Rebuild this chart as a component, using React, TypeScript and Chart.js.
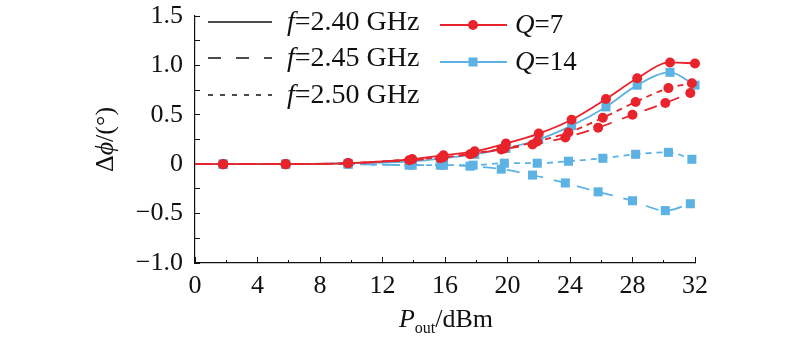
import React, { useEffect, useRef } from 'react';
import { Chart, registerables } from 'chart.js';

Chart.register(...registerables);

// ---- data ----
const pout240 = [0, 1.8, 5.8, 9.8, 13.9, 15.9, 17.9, 19.9, 22.0, 24.1, 26.3, 28.3, 30.4, 32.0];
const q7f240 = [0, 0, 0, 0.01, 0.05, 0.09, 0.13, 0.21, 0.31, 0.45, 0.66, 0.87, 1.03, 1.02];
const q14f240 = [0, 0, 0, 0.01, 0.03, 0.06, 0.1, 0.16, 0.25, 0.39, 0.58, 0.8, 0.93, 0.8];

const pout245 = [0, 1.8, 5.8, 9.8, 13.7, 15.7, 17.6, 19.6, 21.6, 23.7, 25.8, 28.0, 30.1, 31.7];
const q7f245 = [0, 0, 0, 0.01, 0.04, 0.06, 0.1, 0.15, 0.2, 0.27, 0.37, 0.5, 0.62, 0.72];
const q14f245 = [0, 0, 0, 0, -0.01, -0.01, -0.02, -0.05, -0.11, -0.19, -0.28, -0.37, -0.47, -0.4];

const pout250 = [0, 1.8, 5.8, 9.8, 13.9, 15.9, 17.8, 19.8, 21.9, 23.9, 26.1, 28.2, 30.3, 31.8];
const q7f250 = [0, 0, 0, 0.01, 0.05, 0.07, 0.11, 0.16, 0.23, 0.32, 0.47, 0.63, 0.77, 0.82];
const q14f250 = [0, 0, 0, 0, -0.01, -0.01, -0.01, 0.01, 0.01, 0.03, 0.06, 0.1, 0.12, 0.05];

const freqLabels = ['2.40', '2.45', '2.50'];
const qLabels = ['7', '14'];

const xMin = 0;
const xMax = 32;
const yMin = -1.0;
const yMax = 1.5;

const RED = '#e8232b';
const BLUE = '#5cb2e3';
const FONT = '"Liberation Serif", "Times New Roman", serif';

const DASHES = [[], [13, 11], [6, 5]];
const LEGEND_DASHES = [[], [13, 15], [5, 7]];

function pts(xs: number[], ys: number[]) {
  return xs.map((x, i) => ({ x, y: ys[i] }));
}
function radii(xs: number[], r: number) {
  return xs.map((_, i) => (i === 0 ? 0 : r));
}

function drawRich(ctx: CanvasRenderingContext2D, parts: { t: string; italic?: boolean; size: number; dy?: number }[], x: number, y: number) {
  let cx = x;
  for (const p of parts) {
    ctx.font = `${p.italic ? 'italic ' : ''}${p.size}px ${FONT}`;
    ctx.fillText(p.t, cx, y + (p.dy || 0));
    cx += ctx.measureText(p.t).width;
  }
  return cx - x;
}
function richWidth(ctx: CanvasRenderingContext2D, parts: { t: string; italic?: boolean; size: number }[]) {
  let w = 0;
  for (const p of parts) {
    ctx.font = `${p.italic ? 'italic ' : ''}${p.size}px ${FONT}`;
    w += ctx.measureText(p.t).width;
  }
  return w;
}

const overlayPlugin = {
  id: 'overlay',
  afterDraw(chart: any) {
    const ctx: CanvasRenderingContext2D = chart.ctx;
    const area = chart.chartArea;
    ctx.save();
    ctx.fillStyle = '#111';
    ctx.textBaseline = 'middle';
    ctx.textAlign = 'left';

    // left legend column: line styles for frequencies
    const rowsY = [22, 58, 95];
    freqLabels.forEach((f, i) => {
      const y = rowsY[i];
      ctx.strokeStyle = '#111';
      ctx.lineWidth = 1.5;
      ctx.setLineDash(LEGEND_DASHES[i]);
      ctx.beginPath();
      ctx.moveTo(208, y);
      ctx.lineTo(272, y);
      ctx.stroke();
      ctx.setLineDash([]);
      drawRich(ctx, [
        { t: 'f', italic: true, size: 28 },
        { t: '=' + f + ' GHz', size: 28 },
      ], 287, y + 1);
    });

    // right legend column: markers for Q
    const qRows = [25, 62];
    const qColors = [RED, BLUE];
    qLabels.forEach((q, i) => {
      const y = qRows[i];
      ctx.strokeStyle = qColors[i];
      ctx.fillStyle = qColors[i];
      ctx.lineWidth = 1.8;
      ctx.beginPath();
      ctx.moveTo(440, y);
      ctx.lineTo(507, y);
      ctx.stroke();
      if (i === 0) {
        ctx.beginPath();
        ctx.arc(473, y, 5, 0, Math.PI * 2);
        ctx.fill();
      } else {
        ctx.fillRect(473 - 4.5, y - 4.5, 9, 9);
      }
      ctx.fillStyle = '#111';
      drawRich(ctx, [
        { t: 'Q', italic: true, size: 27 },
        { t: '=' + q, size: 27 },
      ], 515, y + 1);
    });

    // x axis title
    const xParts = [
      { t: 'P', italic: true, size: 26 },
      { t: 'out', size: 16, dy: 6 },
      { t: '/dBm', size: 26 },
    ];
    ctx.textBaseline = 'alphabetic';
    const xw = richWidth(ctx, xParts);
    const xc = (area.left + area.right) / 2 + 1;
    drawRich(ctx, xParts, xc - xw / 2, 327);

    // y axis title (rotated)
    const yParts = [
      { t: 'Δ', size: 26 },
      { t: 'ϕ', italic: true, size: 26 },
      { t: '/(°)', size: 26 },
    ];
    const yw = richWidth(ctx, yParts);
    ctx.translate(113, (area.top + area.bottom) / 2);
    ctx.rotate(-Math.PI / 2);
    drawRich(ctx, yParts, -yw / 2, 0);
    ctx.restore();
  },
};

export default function App() {
  const ref = useRef<HTMLCanvasElement>(null);

  useEffect(() => {
    document.body.style.margin = '0';
    const canvas = ref.current;
    if (!canvas) return;

    const ds = (label: string, xs: number[], ys: number[], color: string, dashIdx: number, marker: 'circle' | 'rect') => ({
      label,
      data: pts(xs, ys),
      borderColor: color,
      backgroundColor: color,
      borderWidth: 1.8,
      borderDash: DASHES[dashIdx],
      pointStyle: marker,
      pointRadius: radii(xs, marker === 'circle' ? 5 : 6.4),
      pointBorderWidth: 0,
      pointBackgroundColor: color,
      cubicInterpolationMode: 'monotone' as const,
      fill: false,
      clip: 10,
    });

    const tickFont = { family: FONT, size: 26 };

    const chart = new Chart(canvas, {
      type: 'line',
      data: {
        datasets: [
          ds('Q=7 f=2.45', pout245, q7f245, RED, 1, 'circle'),
          ds('Q=7 f=2.50', pout250, q7f250, RED, 2, 'circle'),
          ds('Q=7 f=2.40', pout240, q7f240, RED, 0, 'circle'),
          ds('Q=14 f=2.45', pout245, q14f245, BLUE, 1, 'rect'),
          ds('Q=14 f=2.50', pout250, q14f250, BLUE, 2, 'rect'),
          ds('Q=14 f=2.40', pout240, q14f240, BLUE, 0, 'rect'),
        ],
      },
      options: {
        responsive: false,
        animation: false,
        devicePixelRatio: 1,
        events: [],
        layout: { padding: { left: 0, right: 105, top: 16, bottom: 0 } },
        plugins: { legend: { display: false }, tooltip: { enabled: false } },
        scales: {
          x: {
            type: 'linear',
            position: 'bottom',
            min: xMin,
            max: xMax,
            weight: 1,
            ticks: { stepSize: 4, autoSkip: false, maxRotation: 0, font: tickFont, color: '#111', padding: 14 },
            grid: { drawOnChartArea: false, tickLength: -6, color: '#111', lineWidth: 1 },
            border: { color: '#111', width: 1.2 },
            afterFit: (s: any) => { s.height = 79; s.paddingLeft = 0; s.paddingRight = 0; },
          },
          xMinor: {
            type: 'linear',
            axis: 'x',
            position: 'bottom',
            min: xMin,
            max: xMax,
            weight: 0,
            ticks: { display: false, stepSize: 2, autoSkip: false },
            grid: { drawOnChartArea: false, tickLength: -3, color: '#111', lineWidth: 1 },
            border: { display: false },
            afterFit: (s: any) => { s.height = 0; s.paddingLeft = 0; s.paddingRight = 0; },
          },
          y: {
            type: 'linear',
            min: yMin,
            max: yMax,
            ticks: {
              stepSize: 0.25,
              autoSkip: false,
              font: tickFont,
              color: '#111',
              padding: 17,
              callback: (v: any) => {
                const n = Number(v);
                if (Math.abs(n * 2 - Math.round(n * 2)) > 1e-6) return '';
                if (Math.abs(n) < 1e-9) return '0';
                return n < 0 ? '\u2212' + Math.abs(n).toFixed(1) : n.toFixed(1);
              },
            },
            grid: { drawOnChartArea: false, tickLength: -5, color: '#111', lineWidth: 1 },
            border: { color: '#111', width: 1.2 },
            afterFit: (s: any) => { s.width = 195; s.paddingTop = 0; s.paddingBottom = 0; },
          },
        },
      } as any,
      plugins: [overlayPlugin],
    });

    return () => chart.destroy();
  }, []);

  return (
    <div style={{ width: 800, height: 342, background: '#fff' }}>
      <canvas ref={ref} width={800} height={342} style={{ display: 'block' }} />
    </div>
  );
}
